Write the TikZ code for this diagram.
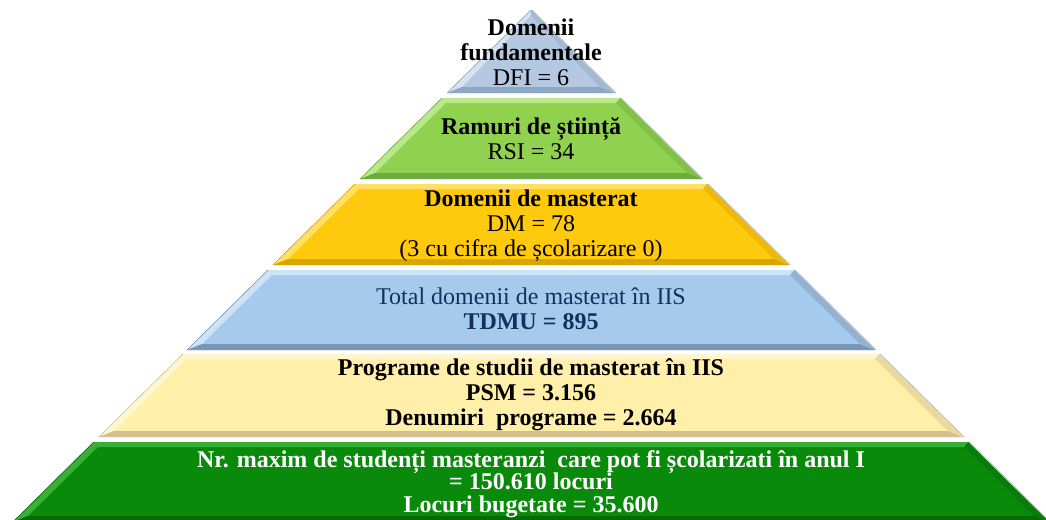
\documentclass[tikz,border=0pt]{standalone}
\usepackage{fontspec}
\setmainfont{Liberation Serif}
\definecolor{triB}{HTML}{B4C8E1}\definecolor{triL}{HTML}{D6E2F0}\definecolor{triD}{HTML}{8CA6C6}
\definecolor{grnB}{HTML}{90D150}\definecolor{grnL}{HTML}{B8E88A}\definecolor{grnD}{HTML}{6EAA40}
\definecolor{yelB}{HTML}{FFC90E}\definecolor{yelL}{HTML}{FFE060}\definecolor{yelD}{HTML}{D9A600}
\definecolor{bluB}{HTML}{A6CAEC}\definecolor{bluL}{HTML}{CDE3F7}\definecolor{bluD}{HTML}{7896B5}
\definecolor{crmB}{HTML}{FFEFA8}\definecolor{crmL}{HTML}{FFF6CF}\definecolor{crmD}{HTML}{D2BE8E}
\definecolor{dgrB}{HTML}{0A8A0A}\definecolor{dgrL}{HTML}{38B038}\definecolor{dgrD}{HTML}{066A06}
\definecolor{navy}{HTML}{14305E}
\newcommand\pyrlayer[3]{%
  \pgfmathsetmacro\hwa{(#1-10)*1.012}%
  \pgfmathsetmacro\hwb{(#2-10)*1.012}%
  \pgfmathsetmacro\yia{#1+5}%
  \pgfmathsetmacro\yib{#2-6}%
  \pgfmathsetmacro\hwia{max((\yia-10)*1.012-9,0)}%
  \pgfmathsetmacro\hwib{(\yib-10)*1.012-9}%
  \fill[#3B] (531-\hwa,#1) -- (531+\hwa,#1) -- (531+\hwb,#2) -- (531-\hwb,#2) -- cycle;
  \fill[#3L] (531-\hwa,#1) -- (531+\hwa,#1) -- (531+\hwia,\yia) -- (531-\hwia,\yia) -- cycle;
  \fill[#3L] (531-\hwa,#1) -- (531-\hwia,\yia) -- (531-\hwib,\yib) -- (531-\hwb,#2) -- cycle;
  \fill[#3D] (531-\hwb,#2) -- (531-\hwib,\yib) -- (531+\hwib,\yib) -- (531+\hwb,#2) -- cycle;
  \fill[#3D!45!#3B] (531+\hwa,#1) -- (531+\hwb,#2) -- (531+\hwib,\yib) -- (531+\hwia,\yia) -- cycle;
  \draw[#3D, line width=0.6] (531-\hwa,#1) -- (531-\hwb,#2);
  \draw[gray!55, line width=0.8] (531+\hwa+1,#1) -- (531+\hwb+1,#2);
}
\tikzset{
  lbl/.style={align=center, inner sep=0pt, font=\fontsize{24}{25}\selectfont},
}
\begin{document}
\begin{tikzpicture}[x=1pt,y=-1pt]
\useasboundingbox (0,0) rectangle (1046,519);
\fill[white] (0,0) rectangle (1046,519);
\pyrlayer{10}{93}{tri}
\pyrlayer{98}{179}{grn}
\pyrlayer{184}{265}{yel}
\pyrlayer{270}{350}{blu}
\pyrlayer{354}{437}{crm}
\pyrlayer{442}{522}{dgr}
\node[lbl] (dfi) at (531,52) {\textbf{Domenii}\\\textbf{fundamentale}\\DFI = 6};
\node[lbl] (rsi) at (531,139) {\textbf{Ramuri de știință}\\RSI = 34};
\node[lbl] (dm) at (531,226) {\textbf{Domenii de masterat}\\DM = 78\\(3 cu cifra de școlarizare 0)};
\node[lbl, text=navy] (tdmu) at (531,309) {Total domenii de masterat în IIS\\\textbf{TDMU = 895}};
\node[lbl, font=\fontsize{24}{25}\selectfont\bfseries] (psm) at (531,395) {Programe de studii de masterat în IIS\\PSM = 3.156\\Denumiri~ programe = 2.664};
\node[lbl, text=white, font=\fontsize{24}{22.8}\selectfont\bfseries] (loc) at (531,484) {Nr. maxim de studenți masteranzi~ care pot fi școlarizati în anul I\\= 150.610 locuri\\Locuri bugetate = 35.600};
\end{tikzpicture}
\end{document}
